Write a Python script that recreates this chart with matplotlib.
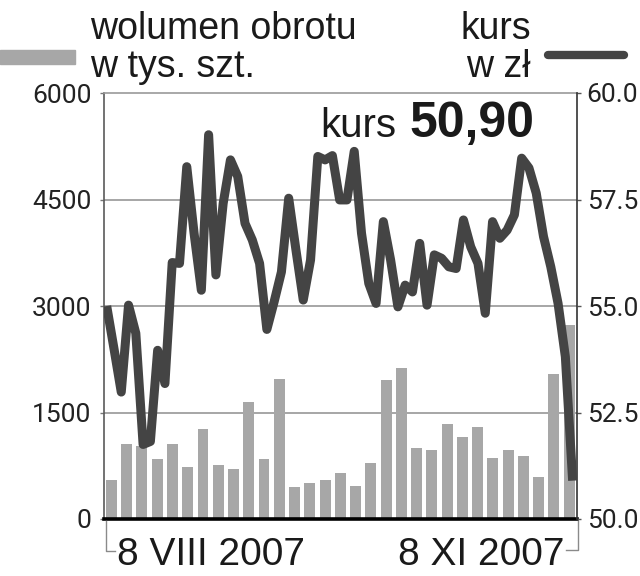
import matplotlib
matplotlib.use("Agg")
import matplotlib.pyplot as plt
from matplotlib.lines import Line2D
from matplotlib.patches import Rectangle
import numpy as np

# ---- data ----
volume = [543, 1051, 1023, 849, 1061, 731, 1273, 755, 703, 1654, 849, 1978,
          449, 505, 543, 646, 459, 783, 1954, 2128, 1004, 967, 1333, 1154,
          1301, 863, 976, 892, 585, 2039, 2730]
price = [55.00, 54.00, 52.98, 55.02, 54.36, 51.75, 51.82, 53.96, 53.18, 56.02,
         56.00, 58.27, 56.71, 55.37, 59.02, 55.73, 57.41, 58.43, 58.04, 56.94,
         56.55, 56.00, 54.45, 55.10, 55.80, 57.53, 56.31, 55.14, 56.08, 58.51,
         58.43, 58.53, 57.49, 57.49, 58.63, 56.71, 55.53, 55.06, 56.98, 56.08,
         54.98, 55.49, 55.33, 56.47, 55.02, 56.20, 56.12, 55.92, 55.88, 57.02,
         56.39, 56.00, 54.83, 56.98, 56.59, 56.78, 57.14, 58.47, 58.24, 57.65,
         56.63, 55.92, 55.06, 53.81, 50.90]
left_ticks = [0, 1500, 3000, 4500, 6000]
left_labels = ["0", "1500", "3000", "4500", "6000"]
right_ticks = [50.0, 52.5, 55.0, 57.5, 60.0]
right_labels = ["50.0", "52.5", "55.0", "57.5", "60.0"]
date_labels = ["8 VIII 2007", "8 XI 2007"]
last_price_label = "50,90"

BAR_C = "#a7a7a7"
LINE_C = "#444444"
GRID_C = "#8e8e8e"

W, H = 640, 576
fig = plt.figure(figsize=(W / 100, H / 100), dpi=100)
fig.patch.set_facecolor("white")

def fx(px):
    return px / W

def fy(py):
    return 1 - py / H

L, R, T, B = 104, 577, 93, 519
rect = [fx(L), fy(B), fx(R) - fx(L), fy(T) - fy(B)]

tick_font = dict(family=["Roboto", "DejaVu Sans"], weight="normal", size=19,
                 color="#222222")
text_font = ["Liberation Sans", "DejaVu Sans"]

ax = fig.add_axes(rect)
x_bars = np.arange(len(volume))
ax.bar(x_bars, volume, width=0.72, color=BAR_C, zorder=2)
ax.set_xlim(-0.49, len(volume) - 0.48)
ax.set_ylim(0, 6000)
ax.set_yticks(left_ticks)
ax.set_yticklabels(left_labels, fontdict=tick_font)
ax.set_xticks([])
for v in left_ticks[1:-1]:
    ax.axhline(v, color=GRID_C, lw=1.1, zorder=1)
ax.tick_params(axis="y", length=3, width=1, color="#777777", pad=6)
ax.spines["top"].set_color("#9a9a9a")
ax.spines["top"].set_linewidth(1.2)
ax.spines["left"].set_color("#5a5a5a")
ax.spines["left"].set_linewidth(1.2)
ax.spines["right"].set_visible(False)
ax.spines["bottom"].set_color("black")
ax.spines["bottom"].set_linewidth(2.6)
ax.spines["bottom"].set_zorder(5)

# line on its own overlay axes (daily points)
ax2 = fig.add_axes(rect)
ax2.patch.set_visible(False)
xl = np.arange(len(price))
ax2.plot(xl, price, color=LINE_C, lw=6.5, solid_joinstyle="round",
         solid_capstyle="butt", zorder=3)
ax2.set_xlim(-0.37, 64.6)
ax2.set_ylim(50, 60)
ax2.set_xticks([])
ax2.yaxis.tick_right()
ax2.set_yticks(right_ticks)
ax2.set_yticklabels(right_labels, fontdict=tick_font)
ax2.tick_params(axis="y", length=3, width=1, color="#555555", pad=4)
for s in ["top", "left", "bottom"]:
    ax2.spines[s].set_visible(False)
ax2.spines["right"].set_color("#333333")
ax2.spines["right"].set_linewidth(1.2)

# annotation of last price
fig.text(fx(534), fy(137), last_price_label, ha="right", va="baseline",
         fontsize=36, fontweight="bold", family=text_font, color="#1a1a1a")
fig.text(fx(396), fy(137), "kurs", ha="right", va="baseline",
         fontsize=29, family=text_font, color="#1a1a1a")

# legend
fig.text(fx(90), fy(39), "wolumen obrotu", ha="left", va="baseline",
         fontsize=27, family=text_font, color="#1a1a1a")
fig.text(fx(90), fy(77), "w tys. szt.", ha="left", va="baseline",
         fontsize=27, family=text_font, color="#1a1a1a")
fig.text(fx(531), fy(39), "kurs", ha="right", va="baseline",
         fontsize=27, family=text_font, color="#1a1a1a")
fig.text(fx(531), fy(77), "w zł", ha="right", va="baseline",
         fontsize=27, family=text_font, color="#1a1a1a")
fig.patches.append(Rectangle((fx(0), fy(64)), fx(75), fy(50) - fy(64),
                             transform=fig.transFigure, color=BAR_C))
fig.lines.append(Line2D([fx(548), fx(624)], [fy(55), fy(55)],
                        transform=fig.transFigure, color=LINE_C, lw=6,
                        solid_capstyle="round"))

# date bracket
br = "#8a8a8a"
fig.lines.append(Line2D([fx(106), fx(106), fx(115)], [fy(521), fy(551), fy(551)],
                        transform=fig.transFigure, color=br, lw=1))
fig.lines.append(Line2D([fx(566), fx(578), fx(578)], [fy(550), fy(550), fy(521)],
                        transform=fig.transFigure, color=br, lw=1))
fig.text(fx(117), fy(565), date_labels[0], ha="left", va="baseline",
         fontsize=28, family=text_font, color="#1a1a1a")
fig.text(fx(564), fy(565), date_labels[1], ha="right", va="baseline",
         fontsize=28, family=text_font, color="#1a1a1a")

fig.savefig("out.png", dpi=100, facecolor="white")
